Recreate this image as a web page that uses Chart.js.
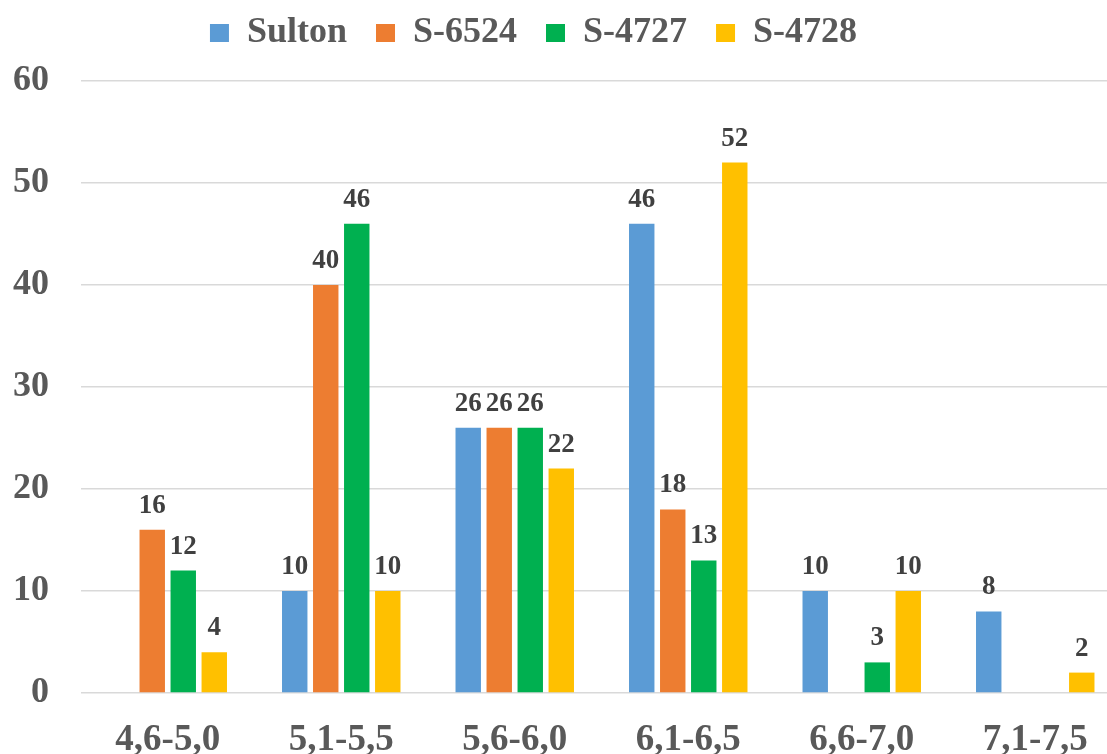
<!DOCTYPE html>
<html>
<head>
<meta charset="utf-8">
<script src="https://cdn.jsdelivr.net/npm/chart.js@4.4.1/dist/chart.umd.min.js"></script>
<style>
  html, body { margin: 0; padding: 0; background: #fff; overflow: hidden; }
  #wrap { position: relative; width: 1125px; height: 800px; }
</style>
</head>
<body>
<div id="wrap"><canvas id="phChart"></canvas></div>
<script>
const categories = ['4,6-5,0', '5,1-5,5', '5,6-6,0', '6,1-6,5', '6,6-7,0', '7,1-7,5'];
const seriesNames = ['Sulton', 'S-6524', 'S-4727', 'S-4728'];
const sulton = [0, 10, 26, 46, 10, 8];
const s6524 = [16, 40, 26, 18, 0, 0];
const s4727 = [12, 46, 26, 13, 3, 0];
const s4728 = [4, 10, 22, 52, 10, 2];
const yTicks = [0, 10, 20, 30, 40, 50, 60];

const COLORS = ['#5B9BD5', '#ED7D31', '#00B050', '#FFC000'];
const FONT = "'Liberation Serif', 'Times New Roman', serif";

Chart.defaults.font.family = FONT;
Chart.defaults.font.weight = 'bold';

// value labels above each non-zero bar
const barLabels = {
    id: 'barLabels',
    afterDatasetsDraw(chart) {
        const ctx = chart.ctx;
        ctx.save();
        ctx.font = 'bold 27px ' + FONT;
        ctx.fillStyle = '#404040';
        ctx.textAlign = 'center';
        ctx.textBaseline = 'alphabetic';
        chart.data.datasets.forEach((ds, i) => {
            chart.getDatasetMeta(i).data.forEach((bar, j) => {
                const v = ds.data[j];
                if (!v) return;
                ctx.fillText(String(v), bar.x, bar.y - 17);
            });
        });
        ctx.restore();
    }
};

// the picture is cropped on the right, so the legend sits left of the box centre
const legendShift = {
    id: 'legendShift',
    afterLayout(chart) {
        const lg = chart.legend;
        lg.left -= 34; lg.right -= 34;
        lg.top -= 20; lg.bottom -= 20;
    }
};

const sets = [sulton, s6524, s4727, s4728];

new Chart(document.getElementById('phChart'), {
    type: 'bar',
    data: {
        labels: categories,
        datasets: sets.map((d, i) => ({
            label: seriesNames[i],
            data: d,
            backgroundColor: COLORS[i],
            borderWidth: 0,
            categoryPercentage: 0.715,
            barPercentage: 0.82
        }))
    },
    options: {
        responsive: true, maintainAspectRatio: false, animation: false,
        layout: { padding: { top: 6, left: 13, right: 3, bottom: 38 } },
        plugins: {
            legend: {
                position: 'top',
                labels: { color: '#595959', boxWidth: 19, boxHeight: 18, padding: 29, font: { size: 36, weight: 'bold' } }
            },
            tooltip: { enabled: false }
        },
        scales: {
            x: {
                grid: { display: false, drawTicks: false },
                border: { display: false },
                ticks: { color: '#595959', padding: 25, font: { size: 37, weight: 'bold' }, maxRotation: 0 },
                afterFit: (axis) => { axis.height = 69; }
            },
            y: {
                min: yTicks[0], max: yTicks[yTicks.length - 1],
                afterBuildTicks: (axis) => { axis.ticks = yTicks.map(v => ({ value: v })); },
                grid: { color: '#d9d9d9', lineWidth: 1.5, drawTicks: false },
                border: { display: false },
                ticks: { color: '#595959', padding: 32, font: { size: 36, weight: 'bold' } },
                afterFit: (axis) => { axis.width = 68; }
            }
        }
    },
    plugins: [barLabels, legendShift]
});
</script>
</body>
</html>
